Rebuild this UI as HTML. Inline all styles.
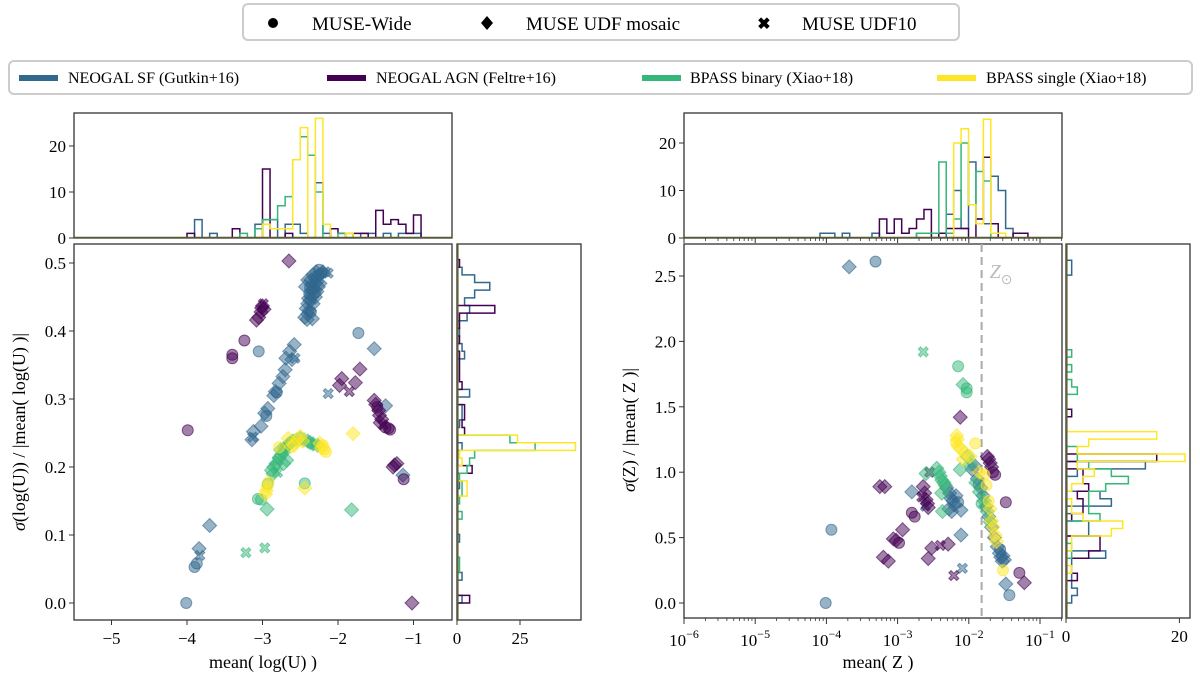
<!DOCTYPE html>
<html><head><meta charset="utf-8"><style>
body{margin:0;background:#fff;}
svg{display:block;font-family:"Liberation Serif",serif;}
</style></head><body>
<svg id="fig" width="1200" height="680" viewBox="0 0 1200 680" xmlns="http://www.w3.org/2000/svg">
<g>
<rect x="243" y="4" width="716" height="36" rx="5" fill="#fff" stroke="#ccc" stroke-width="2"/>
<circle cx="273" cy="23" r="5" fill="#000"/>
<text x="312" y="30" font-size="19">MUSE-Wide</text>
<path d="M487 16 L493 23 L487 30 L481 23Z" fill="#000"/>
<text x="526" y="30" font-size="19">MUSE UDF mosaic</text>
<text x="764" y="29" font-size="16" font-weight="bold" text-anchor="middle">✖</text>
<text x="802" y="30" font-size="19">MUSE UDF10</text>
</g>
<g>
<rect x="9" y="61" width="1183" height="33" rx="5" fill="#fff" stroke="#ccc" stroke-width="2"/>
<rect x="19" y="75" width="39" height="6" fill="#31688e"/>
<text x="68" y="83" font-size="16">NEOGAL SF (Gutkin+16)</text>
<rect x="327" y="75" width="39" height="6" fill="#440154"/>
<text x="376" y="83" font-size="16">NEOGAL AGN (Feltre+16)</text>
<rect x="642" y="75" width="39" height="6" fill="#35b779"/>
<text x="690" y="83" font-size="16">BPASS binary (Xiao+18)</text>
<rect x="937" y="75" width="39" height="6" fill="#fde725"/>
<text x="986" y="83" font-size="16">BPASS single (Xiao+18)</text>
</g>
<g id="plots"></g>
</svg>
<script>
// ---------- data ----------
const modelColors = ["#31688e","#440154","#35b779","#fde725"];
const seriesNames = ["neogal-sf", "neogal-agn", "bpass-binary", "bpass-single"];
// Left scatter (mean log U vs sigma ratio), per series
const lSF_x = [-2.44,-2.40,-2.38,-2.36,-2.40,-2.37,-2.35,-2.38,-2.34,-2.32,-2.35,-2.30,-2.28,-2.31,-2.27,-2.25,-2.22,-2.20,-2.17,-2.13,-2.33,-2.30,-2.28,-2.26,-2.24,-2.42,-2.39,-2.36,-2.33,-2.29,-2.25,-2.40,-2.43,-2.37,-2.31,-2.41,-2.34,
-2.58,-2.64,-2.69,-2.70,-2.73,-2.78,-2.83,-2.85,-2.81,-2.93,-2.97,-2.95,-3.02,-3.12,-3.14,-3.13,-2.57,-2.13,-1.73,-1.52,-3.05,-1.37,-1.14,-3.70,-3.84,-3.83,-3.90,-3.87,-4.01,-2.61];
const lSF_y = [.420,.425,.430,.428,.440,.445,.450,.455,.460,.462,.468,.470,.472,.478,.480,.482,.485,.487,.487,.485,.440,.450,.458,.465,.470,.433,.448,.475,.483,.487,.490,.475,.465,.463,.455,.417,.418,
.380,.370,.360,.343,.333,.323,.311,.305,.310,.286,.279,.275,.260,.252,.240,.244,.360,.308,.397,.374,.370,.290,.188,.114,.080,.070,.053,.058,0.0,.358];
const lSF_m = ["d","d","d","o","d","d","d","o","d","d","d","d","d","d","d","d","o","d","x","x","d","d","d","d","d","d","d","d","d","d","o","d","d","o","d","d","d",
"d","d","d","d","d","d","d","d","o","d","d","o","d","d","d","x","x","x","o","d","o","d","d","d","d","x","o","o","o","d"];
const lAGN_x = [-2.65,-3.01,-3.00,-2.98,-3.02,-2.99,-3.08,-3.05,-3.24,-3.40,-3.40,-1.71,-1.95,-1.98,-1.77,-1.85,-1.52,-1.50,-1.48,-1.46,-1.45,-1.42,-1.44,-1.40,-1.37,-1.31,-1.33,-3.99,-1.25,-1.22,-1.27,-1.13,-1.02];
const lAGN_y = [.503,.434,.437,.432,.428,.440,.416,.420,.386,.365,.360,.344,.330,.320,.324,.311,.298,.292,.288,.283,.276,.270,.265,.262,.258,.255,.257,.254,.203,.205,.200,.182,0.0];
const lAGN_m = ["d","d","d","d","d","x","d","d","o","o","o","d","d","d","d","x","d","d","o","d","d","d","d","x","o","o","o","o","d","d","d","o","d"];
const lBIN_x = [-2.88,-2.85,-2.82,-2.80,-2.78,-2.75,-2.72,-2.70,-2.67,-2.64,-2.60,-2.55,-2.50,-2.45,-2.40,-2.37,-2.33,-2.30,-2.27,-2.76,-2.72,-2.93,-3.06,-3.02,-2.94,-2.44,-1.82,-3.22,-2.97,-2.86,-2.68,-2.80];
const lBIN_y = [.195,.200,.205,.210,.213,.218,.222,.228,.232,.235,.238,.240,.242,.240,.238,.236,.234,.233,.232,.225,.205,.175,.153,.152,.138,.176,.137,.074,.081,.190,.210,.192];
const lBIN_m = ["d","d","d","x","d","d","d","d","d","d","d","d","d","d","d","d","d","x","d","d","d","o","o","o","d","o","d","x","x","d","d","x"];
const lSIN_x = [-2.54,-2.50,-2.47,-2.58,-2.62,-2.20,-2.18,-2.22,-2.16,-2.94,-2.95,-2.92,-2.96,-2.44,-1.80,-2.78,-2.66,-2.24];
const lSIN_y = [.240,.245,.238,.232,.230,.232,.226,.228,.222,.171,.165,.178,.160,.169,.249,.229,.242,.235];
const lSIN_m = ["d","d","d","d","d","o","o","d","o","o","d","o","d","d","d","o","d","d"];
// Right scatter (log10 mean Z vs sigma ratio), per series
const rSF_x = [-3.68,-3.31,-3.93,-4.01,-2.80,-2.31,-2.27,-2.25,-2.22,-2.20,-2.28,-2.18,-2.15,-2.24,-2.11,-2.11,-2.09,-2.61,-1.48,-1.43,-1.95,-1.92,-1.88,-1.83,-1.80,-1.76,-1.72,-1.68,-1.64,-1.60,-1.57,-1.55,-1.53,-1.56,-1.52,-1.50,-1.86];
const rSF_y = [2.57,2.61,.56,0.0,.85,.88,.84,.80,.78,.75,.72,.82,.77,.70,.71,.52,.265,.74,.145,.06,1.02,1.05,.95,.88,.82,.74,.66,.58,.50,.43,.38,.35,.32,.41,.36,.33,.91];
const rSF_m = ["d","o","o","o","d","d","d","d","d","d","d","d","o","d","d","d","x","x","d","o","d","d","d","d","d","d","d","d","d","d","d","d","d","o","d","d","o"];
const rAGN_x = [-2.12,-1.74,-1.72,-1.70,-1.68,-1.66,-1.63,-1.48,-1.29,-1.22,-2.55,-3.25,-3.18,-2.64,-2.62,-2.60,-2.58,-2.57,-2.80,-2.76,-2.93,-3.06,-2.98,-3.02,-3.20,-3.13,-2.52,-2.57,-2.40,-2.29,-2.21,-2.66];
const rAGN_y = [1.42,1.12,1.10,1.07,1.04,1.00,.98,.77,.23,.155,1.00,.89,.89,.89,.84,.79,.76,.73,.69,.66,.56,.49,.46,.48,.35,.32,.42,.34,.44,.45,.21,.81];
const rAGN_m = ["d","d","d","d","d","o","o","o","o","d","x","d","d","d","d","d","d","d","o","o","d","d","o","d","d","d","d","d","x","d","x","x"];
const rBIN_x = [-2.64,-2.15,-2.08,-2.03,-2.03,-2.60,-2.45,-2.42,-2.40,-2.38,-2.35,-2.33,-2.12,-2.38,-2.37,-1.98,-1.90,-1.85,-1.78,-1.74,-1.70,-1.82,-2.02];
const rBIN_y = [1.92,1.81,1.67,1.64,1.61,.99,1.03,1.00,.97,.94,.92,.90,1.02,.84,.70,1.06,.92,.85,.78,.70,.62,.76,1.12];
const rBIN_m = ["x","o","d","o","o","d","d","d","d","d","d","d","d","d","d","d","d","d","d","d","d","o","d"];
const rSIN_x = [-2.17,-2.16,-2.18,-2.15,-1.91,-2.12,-2.05,-1.98,-1.75,-1.78,-1.85,-1.70,-1.68,-1.66,-1.63,-1.61,-1.52,-2.08,-1.72];
const rSIN_y = [1.28,1.25,1.23,1.20,1.22,1.18,1.15,1.12,.90,.98,1.00,.72,.63,.58,.52,.47,.25,1.10,.78];
const rSIN_m = ["d","d","o","d","o","d","d","d","o","o","d","d","d","d","d","d","o","d","o"];
// Top-left histogram (mean log U), bins from -4.0 width 0.1
const hTLStart = -4.0, hTLWidth = 0.1;
const hTL_SF     = [0,4,0,1,0,0,0,0,0,3,4,4,0,3,3,1,0,12,1,0,0,0,0,1,1,0,1,0,1,1,1,0];
const hTL_AGN    = [1,0,0,0,0,0,2,0,0,0,15,0,0,1,0,0,0,0,0,2,1,0,1,1,0,6,3,4,3,1,5,0];
const hTL_BIN    = [0,0,0,0,0,0,0,1,0,2,4,4,7,9,17,22,18,10,0,0,1,1,0,0,0,0,0,0,0,0,0,0];
const hTL_SINGLE = [0,0,0,0,0,0,0,0,0,0,3,2,2,2,17,24,0,26,3,0,0,1,0,0,0,0,0,0,0,0,0,0];
// Left marginal histogram (sigma log U), bins from 0 width 0.01122
const hMLStart = 0, hMLWidth = 0.01122;
const hML_SF     = [2,0,0,2,0,0,0,0,1,0,0,0,0,0,0,1,0,0,0,0,2,0,0,1,2,2,0,5,0,0,0,0,3,2,0,1,0,4,5,3,7,13,7,2,0];
const hML_AGN    = [5,0,0,0,0,0,0,0,0,0,0,0,0,0,0,0,0,6,0,0,0,0,3,2,3,3,0,0,2,1,1,1,1,0,1,0,1,1,15,0,0,0,0,0,1];
const hML_BIN    = [0,0,0,0,1,1,0,0,0,0,0,2,0,1,2,2,1,4,5,7,31,21,0,0,0,0,0,0,0,0,0,0,0,0,0,0,0,0,0,0,0,0,0,0,0];
const hML_SINGLE = [0,0,0,0,0,0,0,0,0,0,0,0,0,0,4,4,0,0,2,1,47,24,0,0,0,0,0,0,0,0,0,0,0,0,0,0,0,0,0,0,0,0,0,0,0];
// Top-right histogram (log10 mean Z), bins from -4.09 width 0.1043 dex
const hTRStart = -4.09, hTRWidth = 0.1043;
const hTR_SF     = [1,1,0,1,0,0,0,1,0,0,0,0,0,1,1,0,0,5,10,2,16,4,3,13,10,2,0,0];
const hTR_AGN    = [0,0,0,0,0,0,0,0,4,1,4,1,2,4,6,0,1,2,2,2,0,4,17,3,0,0,1,1];
const hTR_BIN    = [0,0,0,0,0,0,0,0,0,0,0,0,0,1,1,1,16,1,4,20,7,14,12,0,0,0,0,0];
const hTR_SINGLE = [0,0,0,0,0,0,0,0,0,0,0,0,0,0,0,0,0,0,20,23,7,3,25,1,1,0,0,0];
// Right marginal histogram (sigma Z), bins from 0 width 0.05696
const hMRStart = 0, hMRWidth = 0.05696;
const hMR_SF     = [1,2,1,1,0,1,7,0,0,4,4,1,0,8,6,0,0,2,14,0,0,0,0,0,0,0,0,0,0,0,0,0,0,0,0,0,0,0,0,0,0,0,0,0,1,1];
const hMR_AGN    = [0,0,0,2,1,0,4,6,6,0,0,1,3,3,2,4,3,3,0,16,0,0,0,0,0,1,0,0,0,0,0,0,0,0,0,0,0,0,0,0,0,0,0,0,0,0];
const hMR_BIN    = [0,0,0,0,0,0,1,1,0,0,0,6,4,4,4,7,11,8,4,2,2,0,0,0,0,0,0,0,2,1,0,1,0,1,0,0,0,0,0,0,0,0,0,0,0,0];
const hMR_SINGLE = [0,0,0,0,1,0,0,1,1,8,10,3,1,1,0,1,3,5,2,21,2,4,16,0,0,0,0,0,0,0,0,0,0,0,0,0,0,0,0,0,0,0,0,0,0,0];
const xTicksL = [-5,-4,-3,-2,-1], yTicksL = [0.0,0.1,0.2,0.3,0.4,0.5];
const xTicksR = [-6,-5,-4,-3,-2,-1], yTicksR = [0.0,0.5,1.0,1.5,2.0,2.5];
const hTicks = [0,10,20];
const ZSUN_LOG = -1.82;

// ---------- scales ----------
const xL = v => 187 + (v + 4) * 75.5;
const yL = v => 603 - v * 680;
const xR = lz => 684 + (lz + 6) * 71.2;
const yR = v => 603 - v * 130.8;
const yHL = c => 238 - c * 4.6;
const yHR = c => 238 - c * 4.75;
const xML = c => 457 + c * 2.52;
const xMR = c => 1066 + c * 5.67;

const NS = "http://www.w3.org/2000/svg";
const root = document.getElementById("plots");
function mk(tag, attrs, parent) {
  const e = document.createElementNS(NS, tag);
  for (const k in attrs) e.setAttribute(k, attrs[k]);
  (parent || root).appendChild(e);
  return e;
}
function fmt(v, d) { const s = v.toFixed(d); return s.replace("-", "\u2212"); }

function frame(x, y, w, h, name) {
  const r = mk("rect", {x: x, y: y, width: w, height: h, fill: "none", stroke: "#333", "stroke-width": 1.3});
  
  
}
function tickX(x, yb, label, name) {
  mk("line", {x1: x, x2: x, y1: yb, y2: yb + 5, stroke: "#333", "stroke-width": 1});
  const t = mk("text", {x: x, y: yb + 24, "font-size": 17, "text-anchor": "middle"});
  t.textContent = label;
  
  
}
function tickY(xl, y, label, name) {
  mk("line", {x1: xl - 5, x2: xl, y1: y, y2: y, stroke: "#333", "stroke-width": 1});
  const t = mk("text", {x: xl - 8, y: y + 6, "font-size": 17, "text-anchor": "end"});
  t.textContent = label;
  
  
}
function stepV(counts, start, width, xs, ys, color, name, clipId) {
  let d = "M" + xs(start) + " " + ys(0);
  counts.forEach((c, i) => {
    const a = xs(start + i * width), b = xs(start + (i + 1) * width);
    d += " L" + a + " " + ys(c) + " L" + b + " " + ys(c);
  });
  d += " L" + xs(start + counts.length * width) + " " + ys(0);
  const p = mk("path", {d: d, fill: "none", stroke: color, "stroke-width": 1.5, "clip-path": "url(#" + clipId + ")"});
  
  
}
function stepH(counts, start, width, xs, ys, color, name, clipId) {
  let d = "M" + xs(0) + " " + ys(start);
  counts.forEach((c, i) => {
    const a = ys(start + i * width), b = ys(start + (i + 1) * width);
    d += " L" + xs(c) + " " + a + " L" + xs(c) + " " + b;
  });
  d += " L" + xs(0) + " " + ys(start + counts.length * width);
  const p = mk("path", {d: d, fill: "none", stroke: color, "stroke-width": 1.5, "clip-path": "url(#" + clipId + ")"});
  
  
}
function marker(type, cx, cy, color, clipId) {
  const common = {fill: color, "fill-opacity": 0.5, stroke: color, "stroke-opacity": 0.6, "stroke-width": 1, "clip-path": "url(#" + clipId + ")"};
  if (type === "o") return mk("circle", Object.assign({cx: cx, cy: cy, r: 5.5}, common));
  if (type === "d") return mk("path", Object.assign({d: `M${cx} ${cy-7} L${cx+7} ${cy} L${cx} ${cy+7} L${cx-7} ${cy}Z`}, common));
  const s = 5, w = 2.2;
  return mk("path", Object.assign({d: `M${cx-s} ${cy-s+w} L${cx-s+w} ${cy-s} L${cx} ${cy-w} L${cx+s-w} ${cy-s} L${cx+s} ${cy-s+w} L${cx+w} ${cy} L${cx+s} ${cy+s-w} L${cx+s-w} ${cy+s} L${cx} ${cy+w} L${cx-s+w} ${cy+s} L${cx-s} ${cy+s-w} L${cx-w} ${cy}Z`}, common));
}
function scatter(xs, ys, ms, k, sx, sy, clipId, prefix) {
  xs.forEach((xv, i) => {
    const m = marker(ms[i] || "d", sx(xv), sy(ys[i]), modelColors[k], clipId);
    
    
  });
}

const defs = mk("defs", {});
function clip(id, x, y, w, h) { const c = mk("clipPath", {id: id}, defs); mk("rect", {x: x, y: y, width: w, height: h}, c); }
clip("cTL", 74, 113, 378, 125); clip("cML", 457, 244, 124, 376); clip("cL", 74, 244, 378, 376);
clip("cTR", 684, 113, 378, 125); clip("cMR", 1066, 244, 124, 374); clip("cR", 684, 244, 378, 374);

// ---------- LEFT ----------
frame(74, 113, 378, 125, "top-left-hist-frame");
hTicks.forEach(v => tickY(74, yHL(v), String(v), "top-left-hist-y-tick-" + v));
[hTL_SF, hTL_AGN, hTL_BIN, hTL_SINGLE].forEach((h, k) => stepV(h, hTLStart, hTLWidth, xL, yHL, modelColors[k], "top-left-hist-" + seriesNames[k], "cTL"));
mk("line", {x1: 74, x2: 452, y1: 237.5, y2: 237.5, stroke: "#5a5a30", "stroke-width": 1.5});

frame(74, 244, 378, 376, "left-scatter-frame");
xTicksL.forEach(v => tickX(xL(v), 620, fmt(v, 0), "left-x-tick-" + v));
yTicksL.forEach(v => tickY(74, yL(v), v.toFixed(1), "left-y-tick-" + v));
scatter(lSF_x, lSF_y, lSF_m, 0, xL, yL, "cL", "left");
scatter(lAGN_x, lAGN_y, lAGN_m, 1, xL, yL, "cL", "left");
scatter(lBIN_x, lBIN_y, lBIN_m, 2, xL, yL, "cL", "left");
scatter(lSIN_x, lSIN_y, lSIN_m, 3, xL, yL, "cL", "left");

frame(457, 244, 124, 376, "left-marginal-hist-frame");
[0, 25].forEach(v => tickX(xML(v), 620, String(v), "left-marginal-x-tick-" + v));
[hML_SF, hML_AGN, hML_BIN, hML_SINGLE].forEach((h, k) => stepH(h, hMLStart, hMLWidth, xML, yL, modelColors[k], "left-marginal-hist-" + seriesNames[k], "cML"));
mk("line", {x1: 457.8, x2: 457.8, y1: 244, y2: 620, stroke: "#5a5a30", "stroke-width": 1.5});

let t = mk("text", {x: 263, y: 668, "font-size": 18, "text-anchor": "middle"});
t.textContent = "mean( log(U) )";


t = mk("text", {x: 0, y: 0, "font-size": 18, "text-anchor": "middle", transform: "translate(25 432) rotate(-90)"});
t.innerHTML = '<tspan font-style="italic">σ</tspan>(log(U)) / |mean( log(U) )|';



// ---------- RIGHT ----------
frame(684, 113, 378, 125, "top-right-hist-frame");
hTicks.forEach(v => tickY(684, yHR(v), String(v), "top-right-hist-y-tick-" + v));
[hTR_SF, hTR_AGN, hTR_BIN, hTR_SINGLE].forEach((h, k) => stepV(h, hTRStart, hTRWidth, xR, yHR, modelColors[k], "top-right-hist-" + seriesNames[k], "cTR"));
mk("line", {x1: 684, x2: 1062, y1: 237.5, y2: 237.5, stroke: "#5a5a30", "stroke-width": 1.5});

frame(684, 244, 378, 374, "right-scatter-frame");
xTicksR.forEach(v => {
  mk("line", {x1: xR(v), x2: xR(v), y1: 618, y2: 624, stroke: "#333", "stroke-width": 1});
  mk("line", {x1: xR(v), x2: xR(v), y1: 238, y2: 243, stroke: "#333", "stroke-width": 1});
  const tt = mk("text", {x: xR(v), y: 646, "font-size": 17, "text-anchor": "middle"});
  tt.innerHTML = '10<tspan dy="-8" font-size="12">' + fmt(v, 0) + '</tspan>';
  
  
  for (let m = 2; m <= 9; m++) {
    const xm = xR(v + Math.log10(m));
    if (xm >= 1062) continue;
    mk("line", {x1: xm, x2: xm, y1: 618, y2: 621, stroke: "#333", "stroke-width": 0.8});
    mk("line", {x1: xm, x2: xm, y1: 238, y2: 241, stroke: "#333", "stroke-width": 0.8});
  }
});
yTicksR.forEach(v => tickY(684, yR(v), v.toFixed(1), "right-y-tick-" + v));
const zl = mk("line", {x1: xR(ZSUN_LOG), x2: xR(ZSUN_LOG), y1: 244, y2: 618, stroke: "#aaa", "stroke-width": 2, "stroke-dasharray": "8 5"});


const zt = mk("text", {x: xR(ZSUN_LOG) + 8, y: 278, "font-size": 20, fill: "#bbb", "font-style": "italic"});
zt.innerHTML = 'Z<tspan dy="6" font-size="14" font-style="normal">⊙</tspan>';


scatter(rSF_x, rSF_y, rSF_m, 0, xR, yR, "cR", "right");
scatter(rAGN_x, rAGN_y, rAGN_m, 1, xR, yR, "cR", "right");
scatter(rBIN_x, rBIN_y, rBIN_m, 2, xR, yR, "cR", "right");
scatter(rSIN_x, rSIN_y, rSIN_m, 3, xR, yR, "cR", "right");

frame(1066, 244, 124, 374, "right-marginal-hist-frame");
[0, 20].forEach(v => tickX(xMR(v), 618, String(v), "right-marginal-x-tick-" + v));
[hMR_SF, hMR_AGN, hMR_BIN, hMR_SINGLE].forEach((h, k) => stepH(h, hMRStart, hMRWidth, xMR, yR, modelColors[k], "right-marginal-hist-" + seriesNames[k], "cMR"));
mk("line", {x1: 1066.8, x2: 1066.8, y1: 244, y2: 618, stroke: "#5a5a30", "stroke-width": 1.5});

t = mk("text", {x: 878, y: 668, "font-size": 18, "text-anchor": "middle"});
t.textContent = "mean( Z )";


t = mk("text", {x: 0, y: 0, "font-size": 18, "text-anchor": "middle", transform: "translate(635 430) rotate(-90)"});
t.innerHTML = '<tspan font-style="italic">σ</tspan>(Z) / |mean( Z )|';


</script>
</body></html>
